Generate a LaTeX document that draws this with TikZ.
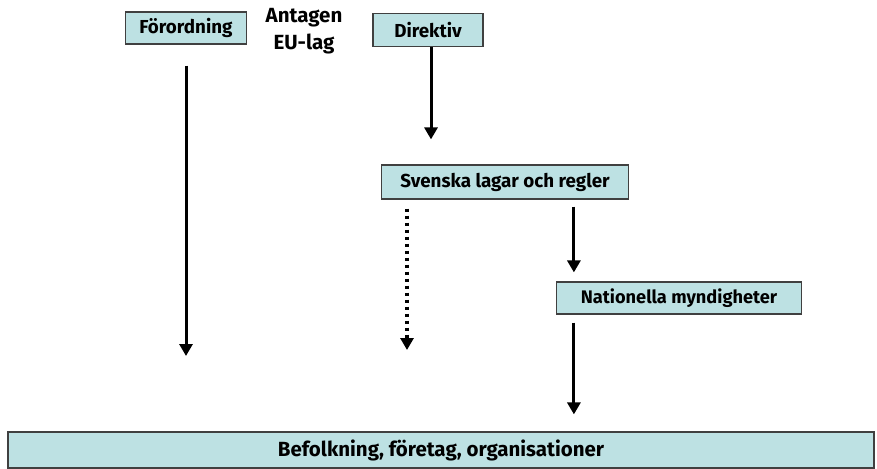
\documentclass[tikz,border=0pt]{standalone}
\usepackage{fontspec}
\setmainfont{Fira Sans}
\usetikzlibrary{positioning}
\usetikzlibrary{arrows.meta}
\definecolor{boxfill}{RGB}{189,225,227}

\begin{document}
\begin{tikzpicture}
    [x=1pt, y=-1pt,
    law/.style={fill=boxfill, draw=black!75, line width=1.2pt, minimum height=32pt, inner sep=2pt, font=\bfseries\fontsize{18.8}{20}\selectfont},
    flow/.style={-{Triangle[length=12pt,width=13pt]}, line width=3pt},
    maybe/.style={dash pattern=on 3.5pt off 3.5pt, line width=3.5pt}]
    \useasboundingbox (0,0) rectangle (877,468);
    \node[law, minimum width=121pt] (forordning) at (186,28) {Förordning};
    \node[font=\bfseries\fontsize{20.5}{27}\selectfont, align=center] (antagen) at (304,31) {Antagen\\EU-lag};
    \node[law, minimum width=110pt, minimum height=33pt] (direktiv) at (428,30) {Direktiv};
    \node[law, minimum width=247pt, minimum height=34pt] (svenska) at (505,182) {Svenska lagar och regler};
    \node[law, minimum width=245pt, font=\bfseries\fontsize{18.2}{19}\selectfont] (nationella) at (679,298) {Nationella myndigheter};
    \node[law, minimum width=866pt, minimum height=36pt, font=\bfseries\fontsize{20.5}{22}\selectfont] (befolkning) at (441,450) {Befolkning, företag, organisationer};
    \coordinate (forEnd) at (186,356);
    \coordinate (dotEnd) at (407,350);
    \draw[flow, shorten <=21pt] (forordning) -- (forEnd);
    \draw[flow, shorten >=25pt] ([xshift=3pt]direktiv.south) -- ([xshift=3pt]direktiv.south |- svenska.north);
    \draw[flow, maybe, shorten <=9pt] (svenska.south -| dotEnd) -- (dotEnd);
    \draw[flow, shorten <=7pt, shorten >=9pt] ([xshift=18pt]svenska.south -| nationella.west) -- ([xshift=18pt]nationella.north west);
    \draw[flow, shorten <=8pt, shorten >=17pt] ([xshift=18pt]nationella.south west) -- ([xshift=18pt]nationella.south west |- befolkning.north);
\end{tikzpicture}
\end{document}
